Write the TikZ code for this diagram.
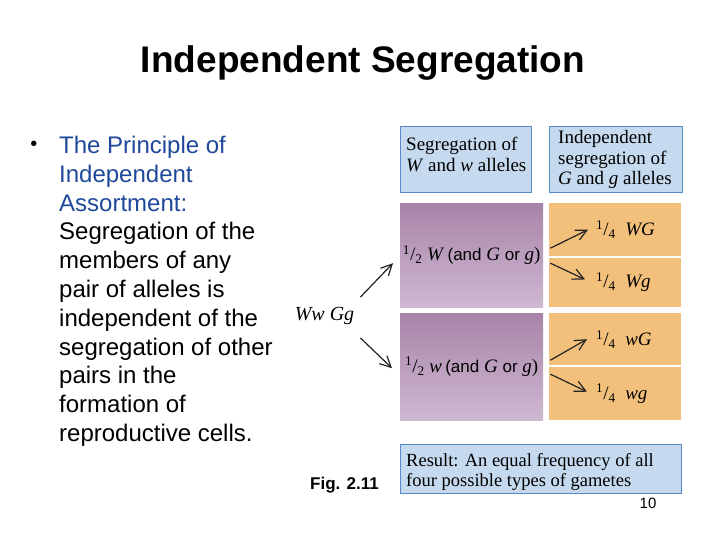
\documentclass[tikz,border=0pt]{standalone}
\usepackage{fontspec}
\newfontfamily\slidefont{Liberation Sans}
\newfontfamily\figfont{Liberation Serif}
\usetikzlibrary{arrows.meta,positioning}
\definecolor{bulletblue}{RGB}{31,73,155}
\definecolor{boxblue}{RGB}{197,217,239}
\definecolor{boxedge}{RGB}{90,135,197}
\definecolor{purpletop}{RGB}{168,132,168}
\definecolor{purplebot}{RGB}{206,184,210}
\definecolor{cellorange}{RGB}{242,192,123}
\definecolor{arrowgray}{RGB}{35,35,35}
\newcommand{\frq}[2]{\textsuperscript{#1}/\textsubscript{#2}}
\newcommand{\sfword}[1]{{\slidefont\fontsize{17}{20}\selectfont #1}}
\begin{document}
\begin{tikzpicture}[x=1pt,y=-1pt,
	bluebox/.style={draw=boxedge,line width=1.2pt,fill=boxblue,anchor=north west,inner sep=0pt},
	boxtext/.style={anchor=west,inner sep=0pt,align=left,font=\figfont\fontsize{19}{20.5}\selectfont},
	purplebox/.style={top color=purpletop,bottom color=purplebot,anchor=north west,
		minimum width=143pt,inner sep=0pt,font=\figfont\fontsize{19}{20.5}\selectfont},
	cell/.style={fill=cellorange,anchor=north west,minimum width=132pt,inner sep=0pt},
	fraclabel/.style={anchor=west,inner sep=0pt,font=\figfont\fontsize{19}{20.5}\selectfont},
	gene arrow/.style={draw=arrowgray,line width=1.2pt,-{Straight Barb[length=11pt,width=11pt]}},
	slidetext/.style={inner sep=0pt,font=\slidefont\fontsize{24}{28.8}\selectfont}]
	%%Location
	\fill[white] (0,0) rectangle (720,540);
	\useasboundingbox (0,0) rectangle (720,540);
	%%Title
	\node[anchor=base,inner sep=0pt,font=\slidefont\bfseries\fontsize{37}{44}\selectfont] (title) at (363,73) {Independent Segregation};
	%%Bullet text
	\node[slidetext,font=\slidefont\fontsize{20}{24}\selectfont] (dot) at (34,146) {\textbullet};
	\node[slidetext,anchor=north west,align=left] (body) at (59,136) {\textcolor{bulletblue}{The Principle of}\\
		\textcolor{bulletblue}{Independent}\\
		\textcolor{bulletblue}{Assortment:}\\
		Segregation of the\\
		members of any\\
		pair of alleles is\\
		independent of the\\
		segregation of other\\
		pairs in the\\
		formation of\\
		reproductive cells.};
	%%Headers
	\node[bluebox,minimum width=131pt,minimum height=66pt] (segW) at (400,126) {};
	\node[bluebox,minimum width=133pt,minimum height=66pt] (segG) at (549,126) {};
	\node[boxtext] (segWtext) at ([xshift=6,yshift=5]segW.west) {Segregation of\\ \textit{W} and \textit{w} alleles};
	\node[boxtext] (segGtext) at ([xshift=9]segG.west) {Independent\\ segregation of\\ \textit{G} and \textit{g} alleles};
	%%First segregation
	\node[purplebox,minimum height=104pt] (Wtop) at (400,203) {\frq12\ \textit{W}\,\sfword{(and} \textit{G} \sfword{or} \textit{g})};
	\node[purplebox,minimum height=107pt] (wbot) at (400,313) {\frq12\ \textit{w}\,\sfword{(and} \textit{G} \sfword{or} \textit{g})};
	%%Second segregation
	\node[cell,minimum height=53pt] (cWG) at (549,203) {};
	\node[cell,minimum height=49.5pt] (cWg) at (549,257.5) {};
	\node[cell,minimum height=52pt] (cwG) at (549,313) {};
	\node[cell,minimum height=53pt] (cwg) at (549,367) {};
	\node[fraclabel] (qWG) at ([xshift=47]cWG.west) {\frq14\ \ \textit{WG}};
	\node[fraclabel] (qWg) at ([xshift=47]cWg.west) {\frq14\ \ \textit{Wg}};
	\node[fraclabel] (qwG) at ([xshift=47]cwG.west) {\frq14\ \ \textit{wG}};
	\node[fraclabel] (qwg) at ([xshift=47]cwg.west) {\frq14\ \ \textit{wg}};
	%%Parent
	\node[inner sep=0pt,font=\figfont\fontsize{20}{22}\selectfont] (WwGg) at (324.5,316) {\textit{Ww Gg}};
	%%Arrows
	\draw[gene arrow] ([xshift=6,yshift=10]WwGg.north east) -- ([xshift=-7,yshift=-8]Wtop.west);
	\draw[gene arrow] ([xshift=6,yshift=-13]WwGg.south east) -- ([xshift=-8,yshift=-1.5]wbot.west);
	\draw[gene arrow] ([xshift=7,yshift=7]Wtop.east) -- ([xshift=-8]qWG.west);
	\draw[gene arrow] ([xshift=7,yshift=-8]Wtop.east) -- ([xshift=-11,yshift=3]qWg.west);
	\draw[gene arrow] ([xshift=7,yshift=6.5]wbot.east) -- ([xshift=-9]qwG.west);
	\draw[gene arrow] ([xshift=7,yshift=-7.5]wbot.east) -- ([xshift=-9,yshift=2]qwg.west);
	%%Result
	\node[bluebox,minimum width=281pt,minimum height=49pt] (result) at (400,444) {};
	\node[boxtext,font=\figfont\fontsize{18.5}{20}\selectfont] (resulttext) at ([xshift=6,yshift=-3]result.west) {Result: An equal frequency of all\\ four possible types of gametes};
	%%Label
	\node[anchor=base west,inner sep=0pt,font=\slidefont\bfseries\fontsize{17}{20}\selectfont] (fig) at (310,489) {Fig. 2.11};
	\node[anchor=base,inner sep=0pt,font=\slidefont\fontsize{15}{18}\selectfont] (page) at (648,508) {10};
\end{tikzpicture}
\end{document}
